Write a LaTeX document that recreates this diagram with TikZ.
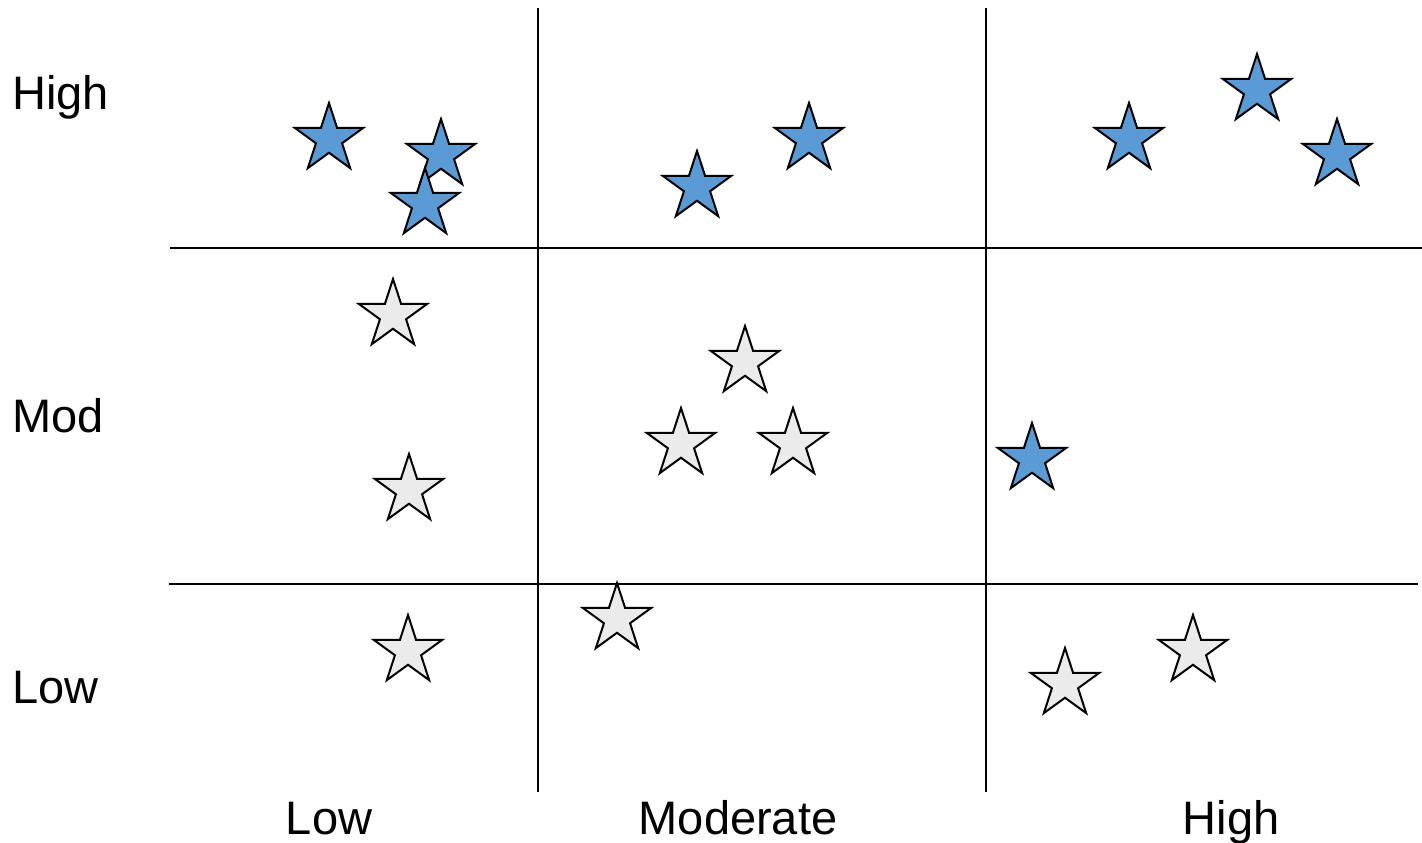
\documentclass[tikz,border=0pt]{standalone}
\usepackage{fontspec}
\setmainfont{Liberation Sans}
\usetikzlibrary{shapes.geometric}
\definecolor{starblue}{RGB}{91,155,213}
\definecolor{stargray}{RGB}{235,235,235}
\tikzset{
  gridline/.style={line width=2.5pt, black},
  starmark/.style={star, star points=5, star point ratio=2.618, draw=black,
    line width=2pt, inner sep=0pt, minimum size=72pt, line join=miter},
  hotstar/.style={starmark, fill=starblue},
  coldstar/.style={starmark, fill=stargray},
  axislabel/.style={inner sep=0pt, font=\fontsize{47}{56}\selectfont}
}
\begin{document}
\begin{tikzpicture}[x=1pt, y=-1pt]
\useasboundingbox (0,0) rectangle (1422,843);

% grid
\coordinate (v1t) at (538,8);   \coordinate (v1b) at (538,792);
\coordinate (v2t) at (986,8);   \coordinate (v2b) at (986,792);
\coordinate (h1l) at (170,248); \coordinate (h1r) at (1422,248);
\coordinate (h2l) at (169,584); \coordinate (h2r) at (1418,584);
\draw[gridline] (v1t) -- (v1b);
\draw[gridline] (v2t) -- (v2b);
\draw[gridline] (h1l) -- (h1r);
\draw[gridline] (h2l) -- (h2r);

% row labels
\node[axislabel, anchor=base west] (rowhigh) at (12,110) {High};
\node[axislabel, anchor=base west] (rowmod)  at (12,432) {Mod};
\node[axislabel, anchor=base west] (rowlow)  at (12,703) {Low};

% column labels
\node[axislabel, anchor=base] (collow)  at (329,834)  {Low};
\node[axislabel, anchor=base] (colmod)  at (738,834)  {Moderate};
\node[axislabel, anchor=base] (colhigh) at (1231,834) {High};

% top row
\node[hotstar] (s1) at (329,139) {};
\node[hotstar] (s2) at (441,155) {};
\node[hotstar] (s3) at (425,204) {};
\node[hotstar] (s4) at (697,187) {};
\node[hotstar] (s5) at (809,139) {};
\node[hotstar] (s6) at (1129,139) {};
\node[hotstar] (s7) at (1257,90) {};
\node[hotstar] (s8) at (1337,155) {};

% middle row
\node[coldstar] (s10) at (393,315) {};
\node[coldstar] (s14) at (409,490) {};
\node[coldstar] (s11) at (745,362) {};
\node[coldstar] (s12) at (681,444) {};
\node[coldstar] (s13) at (793,444) {};
\node[hotstar]  (s9)  at (1032,459) {};

% bottom row
\node[coldstar] (s16) at (408,651) {};
\node[coldstar] (s15) at (617,619) {};
\node[coldstar] (s18) at (1065,684) {};
\node[coldstar] (s17) at (1193,651) {};
\end{tikzpicture}
\end{document}
